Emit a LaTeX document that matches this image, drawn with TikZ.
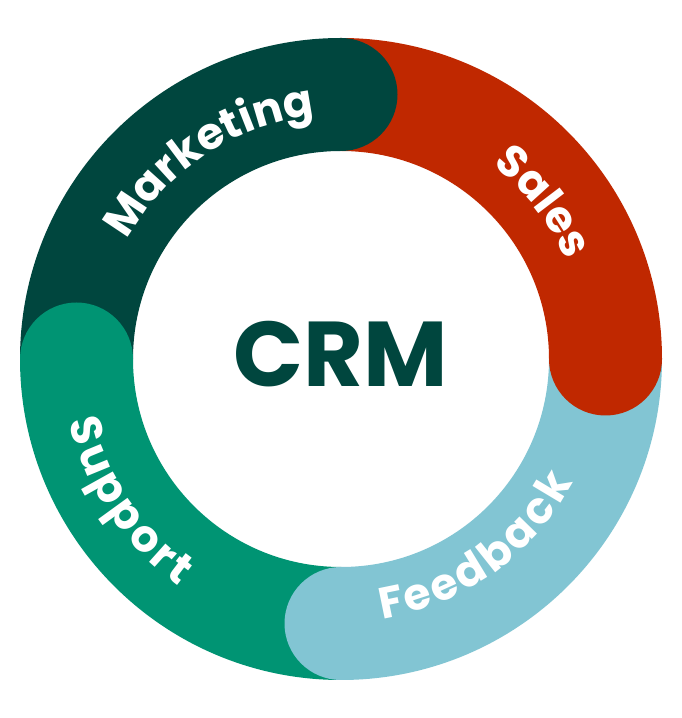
\documentclass[tikz,border=0pt]{standalone}
\usepackage{fontspec}
\newfontfamily\pop{Poppins}
\usetikzlibrary{decorations.text}
\definecolor{mk}{RGB}{0,70,62}
\definecolor{sl}{RGB}{192,40,0}
\definecolor{fb}{RGB}{130,197,211}
\definecolor{sp}{RGB}{0,148,115}
\tikzset{
  ringtext/.style={decorate, decoration={text along path, text color=white,
    text align={fit to path},
    text={|\pop\bfseries\fontsize{44}{44}\selectfont|#1}}},
  sector/.style={fill=#1}
}
\begin{document}
\begin{tikzpicture}[x=1pt,y=1pt]
\fill[white] (0,0) rectangle (681,718);
\useasboundingbox (0,0) rectangle (681,718);
\begin{scope}[shift={(341,359)}]
  % ring sectors
  \fill[sector=mk] (180:321pt) arc[start angle=180,end angle=90,radius=321pt] -- (90:208pt) arc[start angle=90,end angle=180,radius=208pt] -- cycle;
  \fill[sector=sl] (90:321pt) arc[start angle=90,end angle=0,radius=321pt] -- (0:208pt) arc[start angle=0,end angle=90,radius=208pt] -- cycle;
  \fill[sector=fb] (0:321pt) arc[start angle=0,end angle=-90,radius=321pt] -- (-90:208pt) arc[start angle=-90,end angle=0,radius=208pt] -- cycle;
  \fill[sector=sp] (-90:321pt) arc[start angle=-90,end angle=-180,radius=321pt] -- (-180:208pt) arc[start angle=-180,end angle=-90,radius=208pt] -- cycle;
  % round ends
  \fill[mk] (90:264.5pt) circle[radius=56.5pt];
  \fill[sl] (0:264.5pt) circle[radius=56.5pt];
  \fill[fb] (-90:264.5pt) circle[radius=56.5pt];
  \fill[sp] (180:264.5pt) circle[radius=56.5pt];
  % labels
  \path[ringtext=Marketing] (151:245pt) arc[start angle=151,end angle=96,radius=245pt];
  \path[ringtext=Sales] (52:246pt) arc[start angle=52,end angle=24.5,radius=246pt];
  \path[ringtext=Feedback] (-81:263pt) arc[start angle=-81,end angle=-28,radius=263pt];
  \path[ringtext=Support] (193:279pt) arc[start angle=193,end angle=234.5,radius=279pt];
  \node[font=\pop\bfseries\fontsize{92}{92}\selectfont, text=mk, anchor=base, inner sep=0pt] (crm) at (0,-28) {CRM};
\end{scope}
\end{tikzpicture}
\end{document}
